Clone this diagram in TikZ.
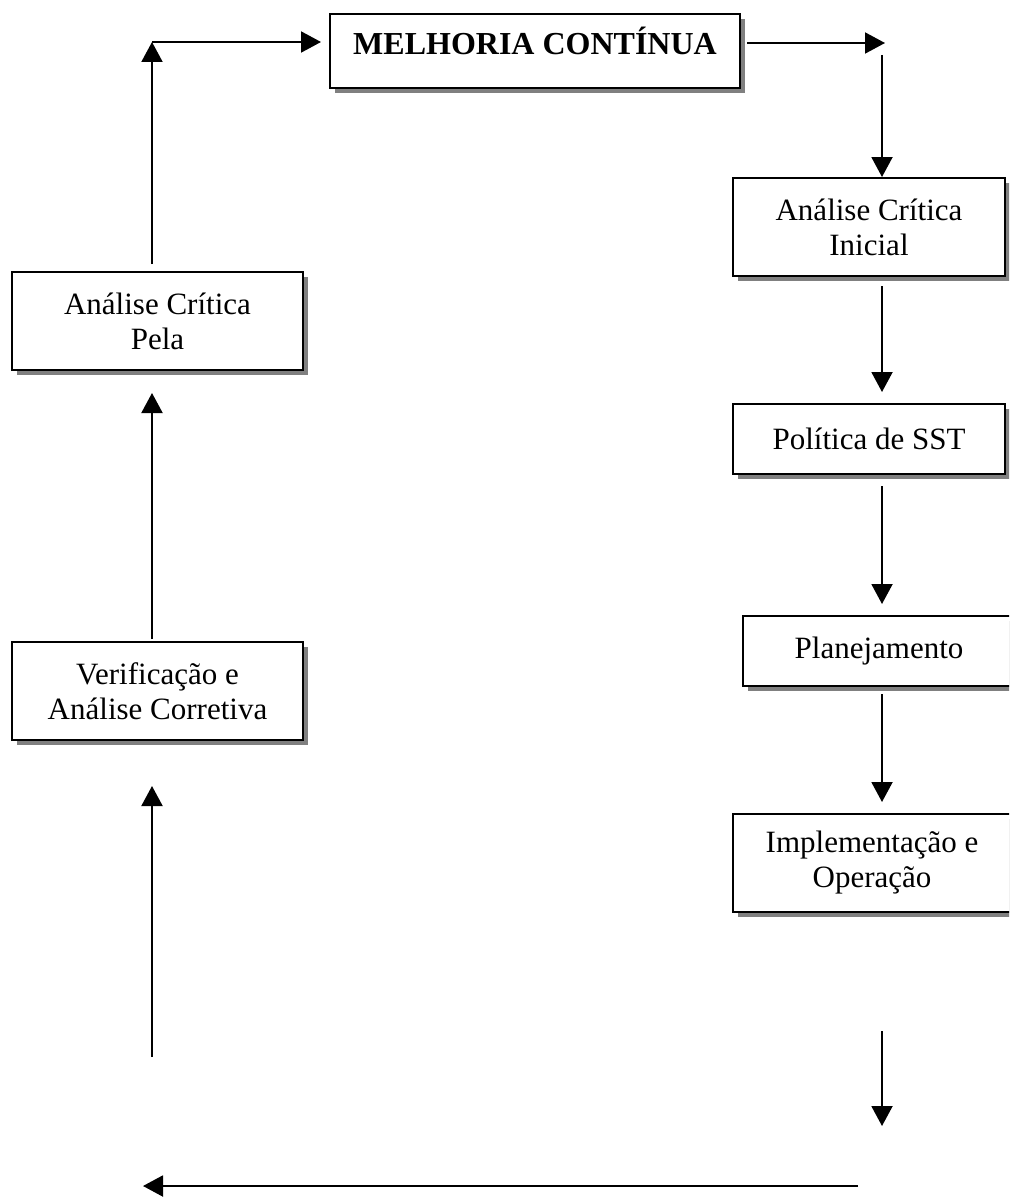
\documentclass[tikz,border=0pt]{standalone}
\usepackage{fontspec}
\setmainfont{Liberation Serif}
\usetikzlibrary{arrows.meta, positioning, shadows}
\definecolor{shadowgray}{HTML}{808080}

\begin{document}
\begin{tikzpicture}[
        x=1pt, y=1pt, on grid, >={Triangle[length=20pt,width=21pt]},
        line width=2pt,
        every node/.style={font=\fontsize{31}{35}\selectfont, align=center, inner sep=0pt},
        box/.style={draw, fill=white, line width=2pt, minimum width=272pt, minimum height=98pt,
          drop shadow={shadow xshift=5pt, shadow yshift=-5pt, fill=shadowgray, opacity=1}},
        ]
        \useasboundingbox (0,0) rectangle (1009,-1199);
        \clip (0,0) rectangle (1009,-1199);
        % \node at (0,0) {};
        \node[box, minimum width=410pt, minimum height=74pt, text depth=20pt,
          font=\fontsize{32}{36}\selectfont\bfseries] (mc) at (535,-51) {MELHORIA CONTÍNUA};
        \node[box]                      (ini) [below right=176pt and 334pt of mc] {Análise Crítica\\Inicial};
        \node[box, minimum height=70pt] (pol) [below=212pt of ini]                {Política de SST};
        \node[box, minimum height=70pt] (pla) [below right=212pt and 10pt of pol] {Planejamento};
        \node[box, minimum width=279pt] (imp) [below left=212pt and 7pt of pla]   {Implementação e\\Operação};
        \node[box, minimum width=291pt] (acp) [below left=270pt and 377.5pt of mc] {Análise Crítica\\Pela};
        \node[box, minimum width=291pt] (ver) [below=370pt of acp]                {Verificação e\\Análise Corretiva};

        \coordinate (tl) at (152,-42);
        \coordinate (tr) at (885,-43);
        \coordinate (br) at (858,-1186);
        \coordinate (bl) at (143,-1186);

        \path[->] ([xshift=-5.5pt,yshift=7pt]acp.north) edge (tl)
        (tl) edge ([xshift=-8pt,yshift=9pt]mc.west)
        ([xshift=6pt,yshift=8pt]mc.east) edge (tr)
        ([xshift=-3pt,yshift=-12pt]tr) edge ([xshift=13pt]ini.north)
        ([xshift=13pt,yshift=-9pt]ini.south) edge ([xshift=13pt,yshift=11pt]pol.north)
        ([xshift=13pt,yshift=-11pt]pol.south) edge ([xshift=3pt,yshift=11pt]pla.north)
        ([xshift=3pt,yshift=-7pt]pla.south) edge ([xshift=10pt,yshift=11pt]imp.north)
        ([xshift=10pt,yshift=-118pt]imp.south) edge ([xshift=10pt,yshift=-213pt]imp.south)
        (br) edge (bl)
        ([xshift=-5.5pt,yshift=-316pt]ver.south) edge ([xshift=-5.5pt,yshift=-45pt]ver.south)
        ([xshift=-5.5pt,yshift=2pt]ver.north) edge ([xshift=-5.5pt,yshift=-22pt]acp.south);
      \end{tikzpicture}
\end{document}
